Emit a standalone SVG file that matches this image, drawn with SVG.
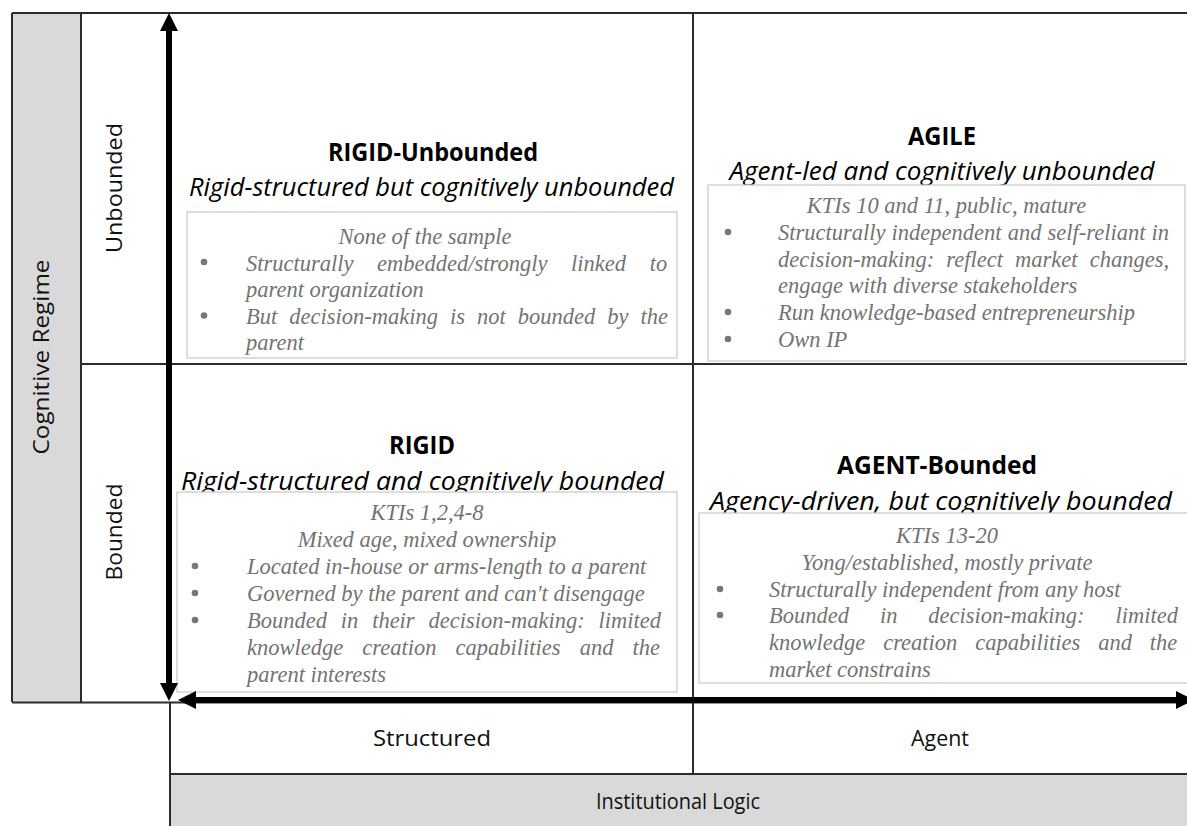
<svg xmlns="http://www.w3.org/2000/svg" width="1187" height="826" viewBox="0 0 1187 826">
<defs>
<style>
.grid{stroke:#2b2b2b;stroke-width:2;fill:none}
.gray{fill:#d9d9d9}
.lbl{font-family:"Open Sans","Liberation Sans",sans-serif;font-size:22px;fill:#111}
.ttl{font-family:"Open Sans","Liberation Sans",sans-serif;font-size:25px;font-weight:bold;fill:#000;text-anchor:middle}
.sub{font-family:"Open Sans","Liberation Sans",sans-serif;font-size:25px;font-style:italic;fill:#000}
.box{fill:#fff;stroke:#c9c9c9;stroke-width:1.2}
.body{font-family:"Liberation Serif","Times New Roman",serif;font-size:22.5px;font-style:italic;fill:#737373}
.ctr{text-anchor:middle}
.bul{fill:#777}
.axis{stroke:#000;stroke-width:6;fill:none}
</style>
<marker id="ah" markerUnits="userSpaceOnUse" markerWidth="18" markerHeight="18" viewBox="0 0 18 18" refX="0" refY="9" orient="auto-start-reverse">
<path d="M0,0 L18,9 L0,18 z" fill="#000"/>
</marker>
</defs>
<rect width="1187" height="826" fill="#fff"/>

<g id="frame">
<rect class="gray" x="12" y="13" width="69" height="689"/>
<rect class="gray" x="170" y="774" width="1017" height="52"/>
<line class="grid" x1="12" y1="13" x2="1187" y2="13"/>
<line class="grid" x1="12" y1="13" x2="12" y2="702"/>
<line class="grid" x1="81" y1="13" x2="81" y2="702"/>
<line class="grid" x1="81" y1="364" x2="1187" y2="364"/>
<line class="grid" x1="693" y1="13" x2="693" y2="774"/>
<line class="grid" x1="12" y1="702.5" x2="1187" y2="702.5"/>
<line class="grid" x1="170" y1="702" x2="170" y2="826"/>
<line class="grid" x1="170" y1="774" x2="1187" y2="774"/>
</g>

<g id="axis-labels">
<text class="lbl ctr" transform="translate(49,357) rotate(-90)" textLength="195" lengthAdjust="spacingAndGlyphs">Cognitive Regime</text>
<text class="lbl ctr" transform="translate(122,188) rotate(-90)" textLength="130" lengthAdjust="spacingAndGlyphs">Unbounded</text>
<text class="lbl ctr" transform="translate(122,532) rotate(-90)" textLength="97" lengthAdjust="spacingAndGlyphs">Bounded</text>
<text class="lbl ctr" x="432" y="746" textLength="118" lengthAdjust="spacingAndGlyphs">Structured</text>
<text class="lbl ctr" x="940" y="746" textLength="58" lengthAdjust="spacingAndGlyphs">Agent</text>
<text class="lbl ctr" x="678" y="809" textLength="164" lengthAdjust="spacingAndGlyphs">Institutional Logic</text>
</g>

<g id="rigid-unbounded">
<text class="ttl" x="433" y="161" textLength="210" lengthAdjust="spacingAndGlyphs">RIGID-Unbounded</text>
<text class="sub" x="189" y="196" textLength="485" lengthAdjust="spacingAndGlyphs">Rigid-structured but cognitively unbounded</text>
<rect class="box" x="187" y="212" width="490" height="146"/>
<text class="body ctr" x="425" y="244">None of the sample</text>
<circle class="bul" cx="204" cy="262" r="3.3"/>
<text class="body" x="246" y="270.5" word-spacing="18">Structurally embedded/strongly linked to</text>
<text class="body" x="246" y="297">parent organization</text>
<circle class="bul" cx="204" cy="315.5" r="3.3"/>
<text class="body" x="246" y="323.5" word-spacing="6.4">But decision-making is not bounded by the</text>
<text class="body" x="246" y="350">parent</text>
</g>

<g id="agile">
<text class="ttl" x="942" y="145" textLength="68" lengthAdjust="spacingAndGlyphs">AGILE</text>
<text class="sub ctr" x="942" y="180" textLength="425" lengthAdjust="spacingAndGlyphs">Agent-led and cognitively unbounded</text>
<rect class="box" x="708" y="185" width="477" height="176"/>
<text class="body ctr" x="946.5" y="213">KTIs 10 and 11, public, mature</text>
<circle class="bul" cx="728" cy="232" r="3.3"/>
<text class="body" x="778" y="240" word-spacing="0.5">Structurally independent and self-reliant in</text>
<text class="body" x="778" y="267" word-spacing="6.5">decision-making: reflect market changes,</text>
<text class="body" x="778" y="293">engage with diverse stakeholders</text>
<circle class="bul" cx="728" cy="312" r="3.3"/>
<text class="body" x="778" y="320">Run knowledge-based entrepreneurship</text>
<circle class="bul" cx="728" cy="339" r="3.3"/>
<text class="body" x="778" y="347">Own IP</text>
</g>

<g id="rigid">
<text class="ttl" x="422" y="454" textLength="66" lengthAdjust="spacingAndGlyphs">RIGID</text>
<text class="sub" x="181" y="490" textLength="483" lengthAdjust="spacingAndGlyphs">Rigid-structured and cognitively bounded</text>
<rect class="box" x="177" y="492" width="500" height="200"/>
<text class="body ctr" x="427" y="520">KTIs 1,2,4-8</text>
<text class="body ctr" x="427" y="547">Mixed age, mixed ownership</text>
<circle class="bul" cx="195" cy="566" r="3.3"/>
<text class="body" x="247" y="574">Located in-house or arms-length to a parent</text>
<circle class="bul" cx="195" cy="593" r="3.3"/>
<text class="body" x="247" y="601">Governed by the parent and can't disengage</text>
<circle class="bul" cx="195" cy="620" r="3.3"/>
<text class="body" x="247" y="628" word-spacing="8.2">Bounded in their decision-making: limited</text>
<text class="body" x="247" y="655" word-spacing="13.5">knowledge creation capabilities and the</text>
<text class="body" x="247" y="682">parent interests</text>
</g>

<g id="agent-bounded">
<text class="ttl" x="937" y="474" textLength="200" lengthAdjust="spacingAndGlyphs">AGENT-Bounded</text>
<text class="sub ctr" x="941" y="510" textLength="462" lengthAdjust="spacingAndGlyphs">Agency-driven, but cognitively bounded</text>
<rect class="box" x="699" y="513" width="496" height="170"/>
<text class="body ctr" x="947" y="543">KTIs 13-20</text>
<text class="body ctr" x="947" y="570">Yong/established, mostly private</text>
<circle class="bul" cx="720" cy="589" r="3.3"/>
<text class="body" x="769" y="597">Structurally independent from any host</text>
<circle class="bul" cx="720" cy="615" r="3.3"/>
<text class="body" x="769" y="623" word-spacing="25.3">Bounded in decision-making: limited</text>
<text class="body" x="769" y="650" word-spacing="12.3">knowledge creation capabilities and the</text>
<text class="body" x="769" y="677">market constrains</text>
</g>

<g id="connectors">
<line class="axis" x1="169" y1="31" x2="169" y2="683" marker-start="url(#ah)" marker-end="url(#ah)"/>
<line class="axis" x1="196" y1="700" x2="1176" y2="700" marker-start="url(#ah)" marker-end="url(#ah)"/>
</g>
</svg>
